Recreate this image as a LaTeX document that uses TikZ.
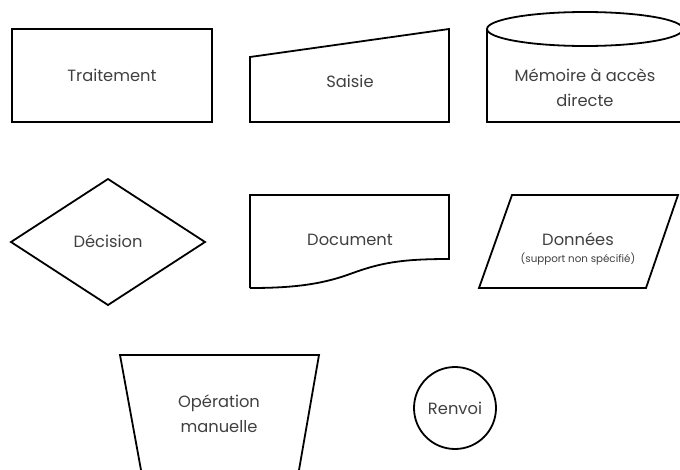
\documentclass[tikz,border=0pt]{standalone}
\usepackage{fontspec}
\setmainfont{Poppins}
\usetikzlibrary{shapes.geometric, positioning}

\begin{document}
\begin{tikzpicture}[x=1pt, y=-1pt, line width=1.8pt,
    symtext/.style={text=black!75, font=\fontsize{16.3}{25}\selectfont, align=center},
    subtext/.style={text=black!75, font=\fontsize{10.3}{12}\selectfont}]
    \useasboundingbox (0,0) rectangle (680,469);

    % ligne 1
    \node[draw, rectangle, minimum width=200pt, minimum height=93pt, symtext] (traitement) at (112,75.5) {Traitement};
    \draw (250,57) -- (449,29) -- (449,122) -- (250,122) -- cycle;
    \node[symtext] (saisie) at (350,81) {Saisie};
    \draw (487,29) -- (487,122) -- (683,122) -- (683,29);
    \draw (585,29) ellipse (98 and 17);
    \node[symtext] (memoire) at (585,88) {Mémoire à accès\\directe};

    % ligne 2
    \draw (11,242) -- (108,179) -- (205,242) -- (108,305) -- cycle;
    \node[symtext] (decision) at (108,241) {Décision};
    \draw (250,288) -- (250,195) -- (449,195) -- (449,259)
        .. controls (400,259) and (380,263) .. (350,274)
        .. controls (320,285) and (290,288) .. (250,288);
    \node[symtext] (document) at (350,240) {Document};
    \draw (512,195) -- (678,195) -- (646,288) -- (479,288) -- cycle;
    \node[symtext] (donnees) at (578,239) {Données};
    \node[subtext] (support) at (578,259) {(support non spécifié)};

    % ligne 3
    \draw (141,470) -- (120,355) -- (319,355) -- (299,470);
    \node[symtext] (operation) at (219,414) {Opération\\manuelle};
    \node[draw, circle, minimum size=82pt, symtext] (renvoi) at (455,408) {Renvoi};
\end{tikzpicture}
\end{document}
